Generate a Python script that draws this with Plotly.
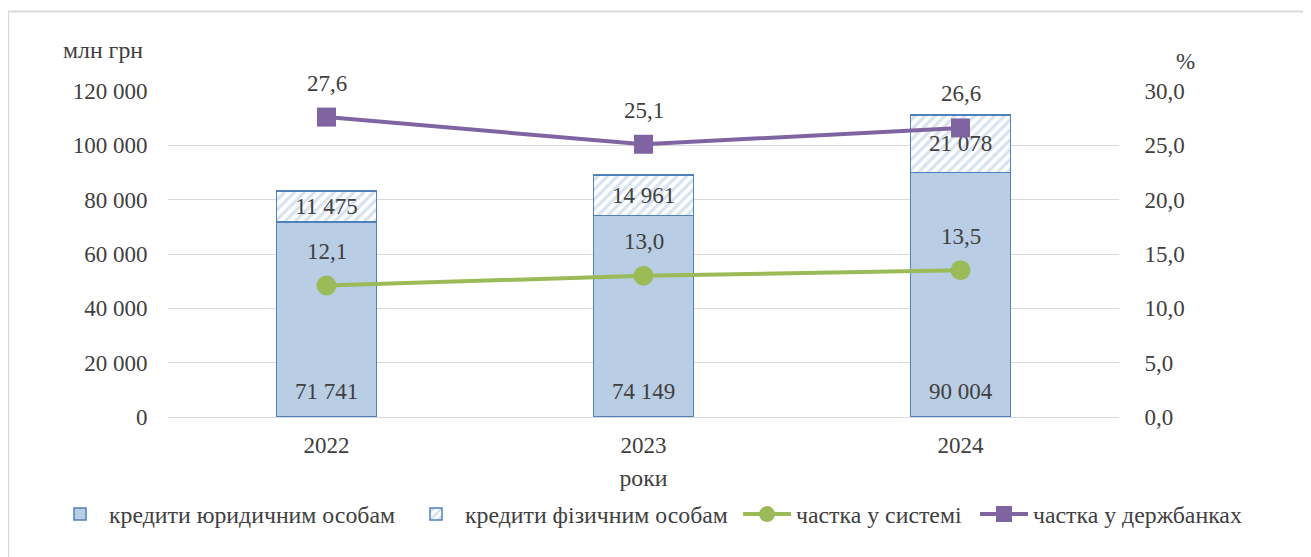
import plotly.graph_objects as go

years = ["2022", "2023", "2024"]
legal_loans = [71741, 74149, 90004]
individual_loans = [11475, 14961, 21078]
share_system = [12.1, 13.0, 13.5]
share_state_banks = [27.6, 25.1, 26.6]

FONT = "Liberation Serif, DejaVu Serif, serif"
TXT = "#404040"
FS = 23
CYR = 23.8

fig = go.Figure()
fig.add_trace(go.Bar(
    x=years, y=legal_loans, name="кредити юридичним особам",
    marker=dict(color="#B9CDE5", line=dict(color="#4F81BD", width=1.5)),
    width=0.315, hoverinfo="skip", legend="legend",
))
fig.add_trace(go.Bar(
    x=years, y=individual_loans, name="кредити фізичним особам",
    marker=dict(color="white", line=dict(color="#4F81BD", width=1.5),
                pattern=dict(shape="/", fgcolor="#AFC6E3", bgcolor="white",
                             size=7, solidity=0.45)),
    width=0.315, texttemplate="%{y:,d}", textposition="inside",
    insidetextanchor="middle", textfont=dict(family=FONT, size=FS, color=TXT),
    legend="legend2",
))
fig.add_trace(go.Scatter(
    x=years, y=share_system, name="частка у системі", yaxis="y2",
    mode="lines+markers", line=dict(color="#9BBB59", width=4),
    marker=dict(symbol="circle", size=20, color="#9BBB59"), legend="legend3",
))
fig.add_trace(go.Scatter(
    x=years, y=share_state_banks, name="частка у держбанках", yaxis="y2",
    mode="lines+markers", line=dict(color="#8064A2", width=4),
    marker=dict(symbol="square", size=19, color="#8064A2"), legend="legend4",
))

annotations = []
for i, v in enumerate(legal_loans):
    annotations.append(dict(
        x=i, y=0, xref="x", yref="y", text=f"{v:,}".replace(",", " "),
        showarrow=False, yanchor="bottom", yshift=11,
        font=dict(family=FONT, size=FS, color=TXT)))
for series in (share_system, share_state_banks):
    for i, v in enumerate(series):
        annotations.append(dict(
            x=i, y=v, xref="x", yref="y2", text=f"{v:.1f}".replace(".", ","),
            showarrow=False, yshift=34, font=dict(family=FONT, size=FS, color=TXT)))

annotations += [
    dict(x=-0.068, y=1.126, xref="paper", yref="paper", text="млн грн",
         xanchor="center", yanchor="middle",
         showarrow=False, font=dict(family=FONT, size=CYR, color=TXT)),
    dict(x=1.07, y=1.089, xref="paper", yref="paper", text="%",
         xanchor="center", yanchor="middle",
         showarrow=False, font=dict(family=FONT, size=FS, color=TXT)),
]

legend_common = dict(orientation="h", y=-0.298, yanchor="middle", xanchor="left",
                     font=dict(family=FONT, size=CYR, color=TXT), traceorder="normal",
                     itemwidth=48, tracegroupgap=0, bgcolor="rgba(0,0,0,0)")

fig.update_layout(
    width=1311, height=557,
    margin=dict(l=160, r=200, t=83, b=148),
    barmode="stack",
    paper_bgcolor="white", plot_bgcolor="white",
    separators=", ",
    font=dict(family=FONT, size=FS, color=TXT),
    showlegend=True,
    legend=dict(x=-0.123, **legend_common),
    legend2=dict(x=0.2513, **legend_common),
    legend3=dict(x=0.5994, **legend_common),
    legend4=dict(x=0.8486, **legend_common),
    xaxis=dict(type="category", range=[-0.5, 2.5],
               title=dict(text="роки", font=dict(family=FONT, size=CYR, color=TXT), standoff=12),
               showline=False, showgrid=False, ticks="outside", ticklen=7,
               tickcolor="rgba(0,0,0,0)", tickfont=dict(family=FONT, size=FS, color=TXT)),
    yaxis=dict(range=[0, 120000], dtick=20000, tickformat=",d", showgrid=True,
               gridcolor="#D9D9D9", gridwidth=1.3, zeroline=True, zerolinecolor="#D9D9D9",
               zerolinewidth=1.3, showline=False, ticks="outside", ticklen=15,
               tickcolor="rgba(0,0,0,0)", tickfont=dict(family=FONT, size=FS, color=TXT)),
    yaxis2=dict(range=[0, 30], dtick=5, tickformat=".1f", overlaying="y", side="right",
                showgrid=False, zeroline=False, showline=False, ticks="outside", ticklen=20,
                tickcolor="rgba(0,0,0,0)", tickfont=dict(family=FONT, size=FS, color=TXT)),
    annotations=annotations,
    shapes=[dict(type="rect", xref="paper", yref="paper",
                 x0=-0.168, x1=1.196, y0=-0.5, y1=1.244,
                 line=dict(color="#D9D9D9", width=2), fillcolor="rgba(0,0,0,0)", layer="below")],
)

fig.write_html("out.html")
